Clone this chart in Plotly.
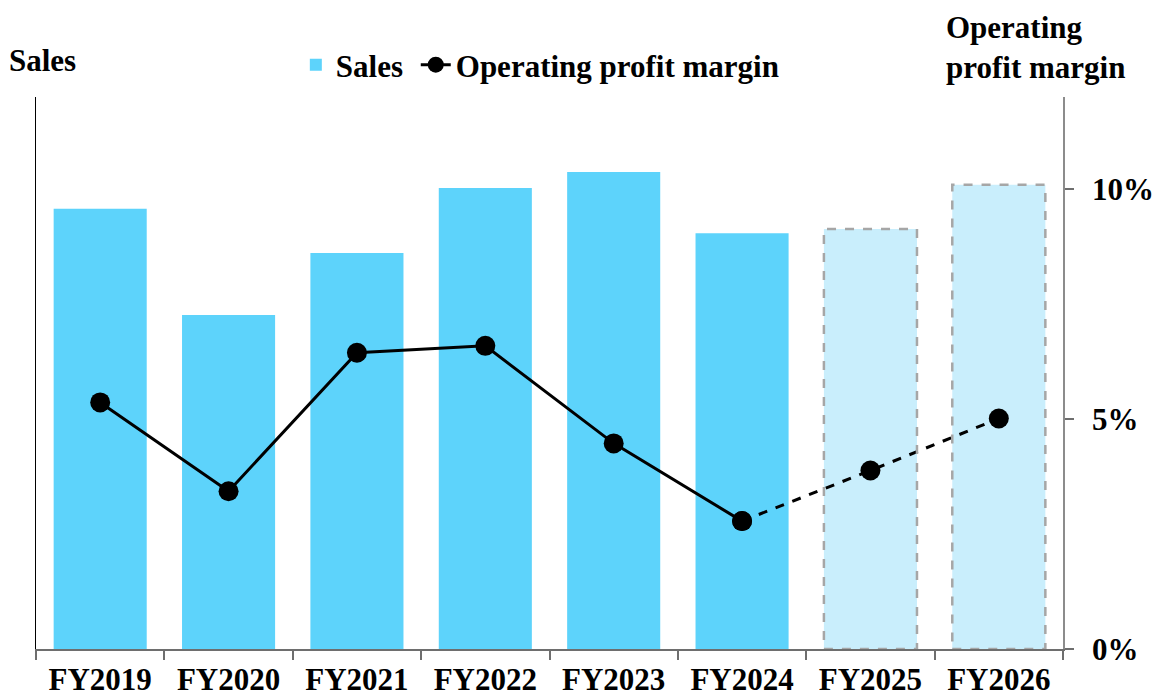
import plotly.graph_objects as go

categories = ["FY2019", "FY2020", "FY2021", "FY2022", "FY2023", "FY2024", "FY2025", "FY2026"]
sales = [9.57, 7.26, 8.61, 10.02, 10.37, 9.04, 9.13, 10.09]
is_forecast = [False, False, False, False, False, False, True, True]
margin = [5.36, 3.43, 6.44, 6.59, 4.47, 2.78, 3.88, 5.01]
margin_ticks = [0, 5, 10]
margin_tick_labels = ["0%", "5%", "10%"]

FONT = "Liberation Serif"
FS = 31
BAR_W = 0.725

act_x = [c for c, f in zip(categories, is_forecast) if not f]
act_y = [v for v, f in zip(sales, is_forecast) if not f]
fc_x = [c for c, f in zip(categories, is_forecast) if f]
fc_y = [v for v, f in zip(sales, is_forecast) if f]

last_actual = max(i for i, f in enumerate(is_forecast) if not f)

fig = go.Figure()
fig.add_trace(go.Bar(x=act_x, y=act_y, name="Sales\u00a0", marker=dict(color="#5DD3FB", line=dict(width=0)),
                     width=BAR_W, yaxis="y"))
fig.add_trace(go.Bar(x=fc_x, y=fc_y, name="Sales forecast", showlegend=False,
                     marker=dict(color="#C9EEFC", line=dict(width=0)), width=BAR_W, yaxis="y"))
fig.add_trace(go.Scatter(x=categories[:last_actual + 1], y=margin[:last_actual + 1], name="Operating profit margin",
                         mode="lines+markers", line=dict(color="black", width=3),
                         marker=dict(color="black", size=20), yaxis="y2"))
fig.add_trace(go.Scatter(x=categories[last_actual:], y=margin[last_actual:], showlegend=False,
                         mode="lines+markers", line=dict(color="black", width=3, dash="dash"),
                         marker=dict(color="black", size=20), yaxis="y2"))

for i, (v, f) in enumerate(zip(sales, is_forecast)):
    if f:
        fig.add_shape(type="rect", xref="x", yref="y", x0=i - BAR_W / 2, x1=i + BAR_W / 2, y0=0, y1=v,
                      line=dict(color="#A6A6A6", width=2.5, dash="dash"), fillcolor="rgba(0,0,0,0)")

fig.update_layout(
    width=1156, height=699,
    margin=dict(l=36, r=93, t=97, b=50, autoexpand=False),
    paper_bgcolor="white", plot_bgcolor="white",
    barmode="overlay",
    font=dict(family=FONT, size=FS, color="black"),
    showlegend=True,
    legend=dict(orientation="h", x=0.253, xanchor="left", y=1.058, yanchor="middle",
                font=dict(family=FONT, size=FS, color="black", weight="bold"),
                bgcolor="rgba(0,0,0,0)", itemwidth=30, tracegroupgap=0),
    xaxis=dict(type="category", range=[-0.5, len(categories) - 0.5], showgrid=False, automargin=False,
               showline=True, linecolor="#6E6E6E", linewidth=1.5,
               ticks="outside", ticklen=9, tickcolor="#6E6E6E", tickwidth=1.5, tickson="boundaries",
               ticklabelstandoff=2,
               tickfont=dict(family=FONT, size=FS, color="black", weight="bold")),
    yaxis=dict(range=[0, 12], showgrid=False, showticklabels=False, ticks="", automargin=False,
               showline=True, linecolor="black", linewidth=1, zeroline=False),
    yaxis2=dict(range=[0, 12], overlaying="y", side="right", showgrid=False, zeroline=False, automargin=False,
                showline=True, linecolor="#8C8C8C", linewidth=1.5,
                tickvals=margin_ticks, ticktext=margin_tick_labels,
                ticks="outside", ticklen=9, tickcolor="#6E6E6E", tickwidth=1.5,
                ticklabelstandoff=12,
                tickfont=dict(family=FONT, size=FS, color="black", weight="bold")),
)

fig.add_annotation(text="<b>Sales</b>", xref="paper", yref="paper", x=-0.028, y=1.066,
                   xanchor="left", yanchor="middle", showarrow=False,
                   font=dict(family=FONT, size=FS, color="black"))
fig.add_annotation(text="<b>Operating<br>profit margin</b>", xref="paper", yref="paper", x=0.884, y=1.019,
                   xanchor="left", yanchor="bottom", align="left", showarrow=False,
                   font=dict(family=FONT, size=FS, color="black"))

fig.write_html("out.html", config={"displayModeBar": False},
               post_script="document.body.style.margin='0';document.body.style.padding='0';")
